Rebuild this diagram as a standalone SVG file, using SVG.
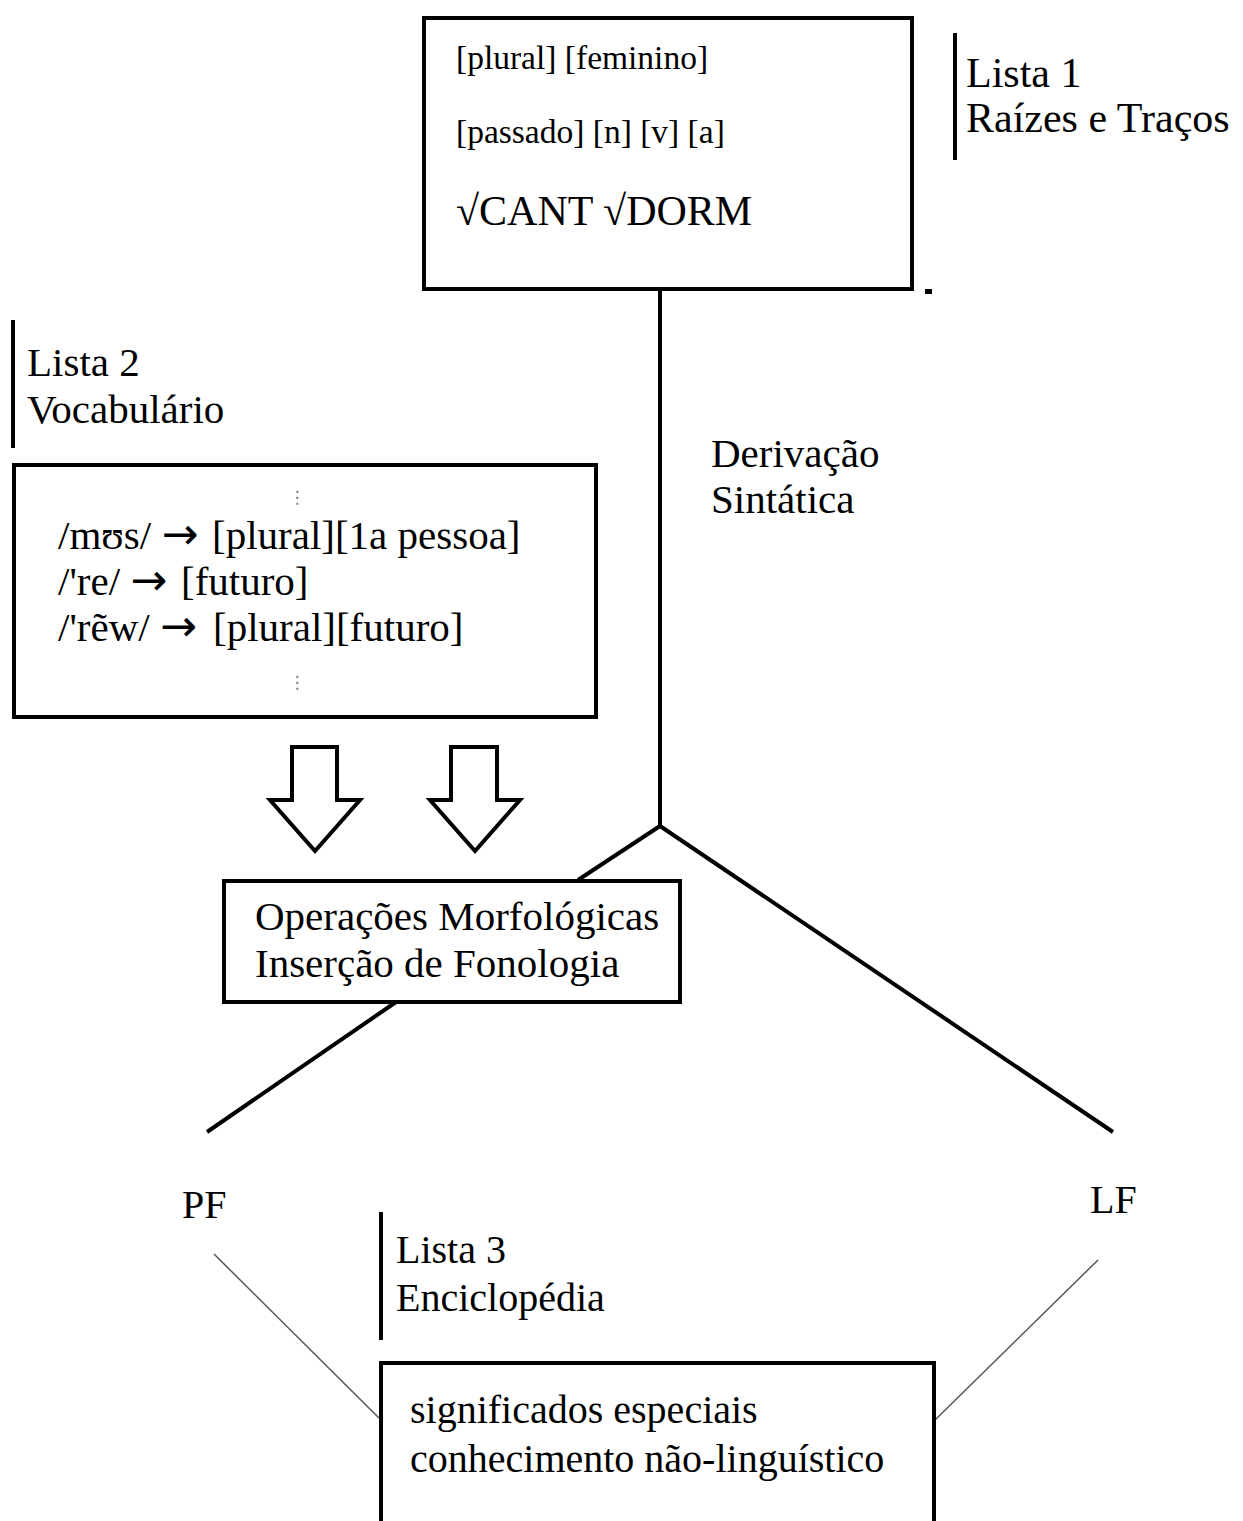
<svg xmlns="http://www.w3.org/2000/svg" width="1243" height="1521" viewBox="0 0 1243 1521">
<style>
  text { font-family: "Liberation Serif", "Times New Roman", "DejaVu Serif", serif; fill: #000; }
  .t41 { font-size: 41px; }
  .t40 { font-size: 40px; }
  .t34 { font-size: 33.5px; }
  .arr { font-family: "DejaVu Sans", sans-serif; font-size: 44px; }
  .box { fill: #fff; stroke: #000; stroke-width: 4; }
  .bar { stroke: #000; stroke-width: 4; }
  .conn { stroke: #000; stroke-width: 4; fill: none; }
  .thin { stroke: #555; stroke-width: 1.5; fill: none; }
  .harrow { fill: #fff; stroke: #000; stroke-width: 4; stroke-linejoin: miter; }
  .dots { font-family: "DejaVu Sans", sans-serif; font-size: 17px; fill: #777; }
</style>
<rect width="1243" height="1521" fill="#fff"/>

<g id="connectors">
  <line class="conn" x1="660" y1="290" x2="660" y2="826"/>
  <line class="conn" x1="660" y1="826" x2="1113" y2="1132"/>
  <line class="conn" x1="660" y1="826" x2="578" y2="880"/>
  <line class="conn" x1="396" y1="1002" x2="207" y2="1132"/>
  <line class="thin" x1="214" y1="1254" x2="379" y2="1418"/>
  <line class="thin" x1="1098" y1="1260" x2="935" y2="1420"/>
  <polygon class="harrow" points="292,747 337,747 337,800 360,800 315,851 270,800 292,800"/>
  <polygon class="harrow" points="451,747 497,747 497,800 520,800 475,851 430,800 451,800"/>
</g>

<g id="lista1">
  <rect class="box" x="424" y="18" width="488" height="271"/>
  <text class="t34" x="456" y="69">[plural] [feminino]</text>
  <text class="t34" x="456" y="143">[passado] [n] [v] [a]</text>
  <text class="t41" x="456" y="225" style="font-size:42px">√CANT √DORM</text>
  <rect x="925" y="289" width="7" height="5" fill="#000"/>
  <line class="bar" x1="955" y1="33" x2="955" y2="160"/>
  <text class="t41" x="966" y="87" style="font-size:42px">Lista 1</text>
  <text class="t41" x="966" y="132" style="font-size:42px">Raízes e Traços</text>
</g>

<g id="derivacao">
  <text class="t41" x="711" y="467">Derivação</text>
  <text class="t41" x="711" y="513">Sintática</text>
</g>

<g id="lista2">
  <line class="bar" x1="13" y1="320" x2="13" y2="448"/>
  <text class="t41" x="27" y="376">Lista 2</text>
  <text class="t41" x="27" y="423">Vocabulário</text>
  <rect class="box" x="14" y="465" width="582" height="252"/>
  <text class="dots" x="297" y="503" text-anchor="middle">⋮</text>
  <text class="t41" x="58" y="549">/mʊs/ <tspan class="arr">→</tspan><tspan x="212">[plural][1a pessoa]</tspan></text>
  <text class="t41" x="58" y="595">/'re/ <tspan class="arr">→</tspan><tspan x="181">[futuro]</tspan></text>
  <text class="t41" x="58" y="641">/'rẽw/ <tspan class="arr">→</tspan><tspan x="213">[plural][futuro]</tspan></text>
  <text class="dots" x="297" y="688" text-anchor="middle">⋮</text>
</g>

<g id="operacoes">
  <rect class="box" x="224" y="881" width="456" height="121"/>
  <text class="t41" x="255" y="930">Operações Morfológicas</text>
  <text class="t41" x="255" y="977">Inserção de Fonologia</text>
</g>

<g id="pf">
  <text class="t40" x="182" y="1218">PF</text>
</g>
<g id="lf">
  <text class="t40" x="1090" y="1213">LF</text>
</g>

<g id="lista3">
  <line class="bar" x1="381" y1="1212" x2="381" y2="1340"/>
  <text class="t40" x="396" y="1263">Lista 3</text>
  <text class="t40" x="396" y="1311">Enciclopédia</text>
  <rect class="box" x="381" y="1363" width="553" height="170"/>
  <text class="t40" x="410" y="1423">significados especiais</text>
  <text class="t40" x="410" y="1472">conhecimento não-linguístico</text>
</g>
</svg>
